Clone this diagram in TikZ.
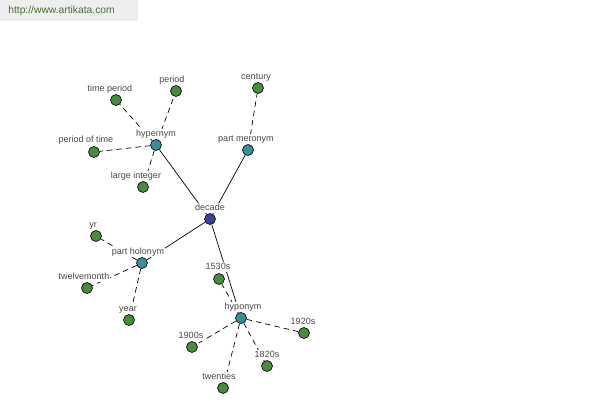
\documentclass[tikz,border=0pt]{standalone}
\usepackage{fontspec}
\setmainfont{Liberation Sans}
\usetikzlibrary{backgrounds}
\definecolor{hubblue}{HTML}{40409A}
\definecolor{relteal}{HTML}{3A8E98}
\definecolor{leafgreen}{HTML}{4A8A3C}
\definecolor{urlgreen}{HTML}{4E6B3A}
\definecolor{boxgray}{HTML}{EEEEEE}
\definecolor{tagtext}{HTML}{484848}
\begin{document}
\begin{tikzpicture}
[x=1pt, y=-1pt, font=\fontsize{9}{11}\selectfont, line width=0.6pt,
hub/.style={circle, draw, fill=hubblue, inner sep=0pt, minimum size=11pt},
rel/.style={circle, draw, fill=relteal, inner sep=0pt, minimum size=11pt},
word/.style={circle, draw, fill=leafgreen, inner sep=0pt, minimum size=11pt},
tag/.style={fill=white, text=tagtext, inner sep=0.6pt, text height=6.5pt, text depth=1.9pt},
link/.style={draw, line width=0.7pt},
sublink/.style={draw, line width=0.7pt, dash pattern=on 5.5pt off 4pt}]

\useasboundingbox (0,0) rectangle (600,400);
\fill[boxgray] (0,0) rectangle (138,21);
\node[anchor=west, inner sep=0pt, text=urlgreen, font=\fontsize{10.3}{12}\selectfont] (url) at (8,11) {http://www.artikata.com};

\node[tag] (decadel) at (210,208) {decade};
\node[tag] (hypernyml) at (156,134) {hypernym};
\node[tag] (meronyml) at (246,139) {part meronym};
\node[tag] (holonyml) at (138,252) {part holonym};
\node[tag] (hyponyml) at (243,307) {hyponym};

\node[tag] (timeperiodl) at (110,89) {time period};
\node[tag] (periodl) at (172,80) {period};
\node[tag] (periodtimel) at (86,140) {period of time};
\node[tag] (largeintl) at (136,176) {large integer};
\node[tag] (centuryl) at (256,77) {century};
\node[tag] (yrl) at (93,225) {yr};
\node[tag] (twelvemonthl) at (84,277) {twelvemonth};
\node[tag] (yearl) at (128,309) {year};
\node[tag] (s1530l) at (218,267) {1530s};
\node[tag] (s1900l) at (191,336) {1900s};
\node[tag] (s1920l) at (303,322) {1920s};
\node[tag] (s1820l) at (267,355) {1820s};
\node[tag] (twentiesl) at (219,377) {twenties};

\node[hub] (decade) at (210,219) {};
\node[rel] (hypernym) at (156,145) {};
\node[rel] (meronym) at (248,150) {};
\node[rel] (holonym) at (142,263) {};
\node[rel] (hyponym) at (241,318) {};

\node[word] (timeperiod) at (116,100) {};
\node[word] (period) at (176,91) {};
\node[word] (periodtime) at (94,152) {};
\node[word] (largeint) at (143,187) {};
\node[word] (century) at (258,88) {};
\node[word] (yr) at (96,236) {};
\node[word] (twelvemonth) at (87,288) {};
\node[word] (year) at (129,320) {};
\node[word] (s1530) at (219,279) {};
\node[word] (s1900) at (192,347) {};
\node[word] (s1920) at (304,333) {};
\node[word] (s1820) at (267,366) {};
\node[word] (twenties) at (223,388) {};

\begin{scope}[on background layer]
\draw[link] (decade) -- (hypernym);
\draw[link] (decade) -- (meronym);
\draw[link] (decade) -- (holonym);
\draw[link] (decade) -- (hyponym);

\draw[sublink] (hypernym) -- (timeperiod);
\draw[sublink] (hypernym) -- (period);
\draw[sublink] (hypernym) -- (periodtime);
\draw[sublink] (hypernym) -- (largeint);
\draw[sublink] (meronym) -- (century);
\draw[sublink] (holonym) -- (yr);
\draw[sublink] (holonym) -- (twelvemonth);
\draw[sublink] (holonym) -- (year);
\draw[sublink] (hyponym) -- (s1530);
\draw[sublink] (hyponym) -- (s1900);
\draw[sublink] (hyponym) -- (s1920);
\draw[sublink] (hyponym) -- (s1820);
\draw[sublink] (hyponym) -- (twenties);
\end{scope}
\end{tikzpicture}
\end{document}
